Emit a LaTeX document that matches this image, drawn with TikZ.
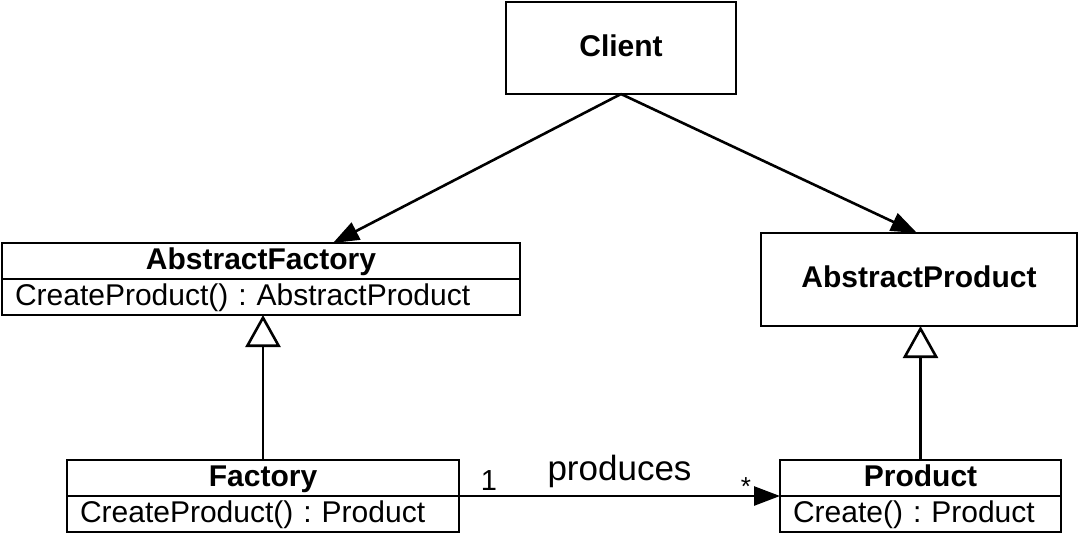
\documentclass[tikz,border=0pt]{standalone}
\usepackage{fontspec}
\setmainfont{Liberation Sans}
\usetikzlibrary{arrows.meta, positioning}
\frenchspacing

\begin{document}
\begin{tikzpicture}[
        x=0.5pt, y=-0.5pt,
        every node/.style={font=\fontsize{15}{18}\selectfont},
        box/.style={rectangle, draw, line width=1.3pt, outer sep=0pt, inner sep=0pt, text height=11pt, text depth=3pt},
        cls/.style={box, font=\fontsize{15}{18}\selectfont\bfseries},
        head/.style={cls, minimum height=18pt},
        ops/.style={box, minimum height=18pt, inner xsep=6.5pt, align=left},
        arrow/.style={-{Triangle[length=13pt, width=9.5pt]}, line width=1.3pt},
        inherit/.style={-{Triangle[open, length=16pt, width=17.5pt, fill=white]}, line width=1.3pt}
    ]
    \useasboundingbox (0,0) rectangle (1079,536);

    % --- Nodes ---
    \node[cls, minimum width=115pt, minimum height=46pt] (client) at (621,48) {Client};
    \node[cls, minimum width=158pt, minimum height=46.5pt] (aproduct) at (919,279.5) {AbstractProduct};

    % AbstractFactory
    \node[head, minimum width=259pt] (afactory) at (261,261) {AbstractFactory};
    \node[ops, text width=246pt, below=0pt of afactory] (afactoryops) {CreateProduct() : AbstractProduct};

    % Factory
    \node[head, minimum width=196pt] (factory) at (263,478) {Factory};
    \node[ops, text width=183pt, below=0pt of factory] (factoryops) {CreateProduct() : Product};

    % Product
    \node[head, minimum width=140.5pt] (product) at (920.5,478) {Product};
    \node[ops, text width=127.5pt, below=0pt of product] (productops) {Create() : Product};

    % --- Edges ---
    \draw[arrow] (client.south) -- ([xshift=36pt]afactory.north);
    \draw[arrow] (client.south) -- ([xshift=-1pt]aproduct.north);

    % Inheritance
    \draw[inherit] (factory.north) -- (factory.north |- afactoryops.south);
    \draw[inherit] (product.north) -- (product.north |- aproduct.south);

    % Association
    \draw[arrow] (factory.south east) -- (product.south west)
        node[pos=0.093, anchor=base, yshift=3pt, font=\fontsize{14.5}{17}\selectfont] (one) {1}
        node[midway, anchor=base, yshift=8pt, font=\fontsize{17.5}{20}\selectfont] (produces) {produces}
        node[pos=0.894, anchor=base, yshift=0.5pt, font=\fontsize{13}{15}\selectfont] (many) {*};

\end{tikzpicture}
\end{document}
